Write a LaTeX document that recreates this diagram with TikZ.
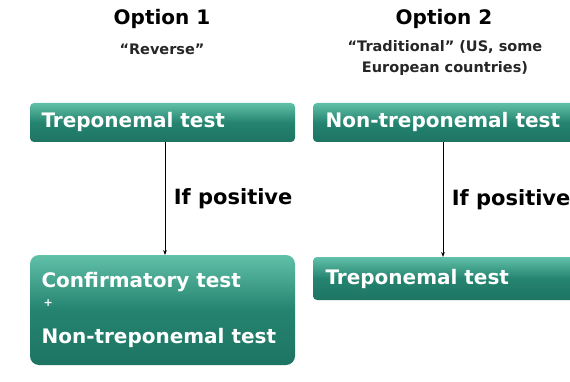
\documentclass[tikz,border=0pt]{standalone}
\usepackage{fontspec}
\setmainfont{DejaVu Sans}
\usetikzlibrary{arrows.meta}
\definecolor{tealbox}{RGB}{36,132,112}
\definecolor{teallight}{RGB}{96,192,168}
\definecolor{tealdark}{RGB}{30,116,98}

\begin{document}
\begin{tikzpicture}[x=1pt, y=-1pt,
  testbox/.style={rounded corners=4pt, top color=teallight, bottom color=tealdark, middle color=tealbox},
  boxtext/.style={anchor=west, text=white, font=\bfseries\fontsize{20}{22}\selectfont},
  title/.style={font=\bfseries\fontsize{20}{22}\selectfont},
  subtitle/.style={font=\bfseries\fontsize{14.5}{21}\selectfont, align=center, text=black!85},
  edgelabel/.style={font=\bfseries\fontsize{21}{23}\selectfont, anchor=west}]

\useasboundingbox (0,0) rectangle (570,382);

% Column headings
\node[title] (opt1) at (162,19) {Option 1};
\node[subtitle] (opt1sub) at (162,49) {``Reverse''};
\node[title] (opt2) at (444,19) {Option 2};
\node[subtitle] (opt2sub) at (445,58) {``Traditional'' (US, some\\European countries)};

% Left column
\shade[testbox] (30,103) rectangle (295,142);
\node[boxtext] (trepL) at (38,122) {Treponemal test};
\coordinate (trepLout) at (165,142);

\shade[testbox, rounded corners=9pt] (30,255) rectangle (295,365);
\coordinate (confLin) at (165,255);
\node[boxtext] (confL) at (38,282) {Confirmatory test};
\node[boxtext, font=\bfseries\fontsize{11}{13}\selectfont] (plusL) at (40,303) {+};
\node[boxtext] (nontrepL) at (38,338) {Non-treponemal test};

\draw[-{Stealth[length=5pt]}, line width=1pt] (trepLout) -- node[edgelabel, xshift=5pt] (posL) {If positive} (confLin);

% Right column
\shade[testbox] (313,103) rectangle (576,142);
\node[boxtext] (nontrepR) at (322,122) {Non-treponemal test};
\coordinate (nontrepRout) at (443,142);

\shade[testbox] (313,257) rectangle (576,300);
\coordinate (trepRin) at (443,257);
\node[boxtext] (trepR) at (322,279) {Treponemal test};

\draw[-{Stealth[length=5pt]}, line width=1pt] (nontrepRout) -- node[edgelabel, xshift=5pt] (posR) {If positive} (trepRin);

\end{tikzpicture}
\end{document}
